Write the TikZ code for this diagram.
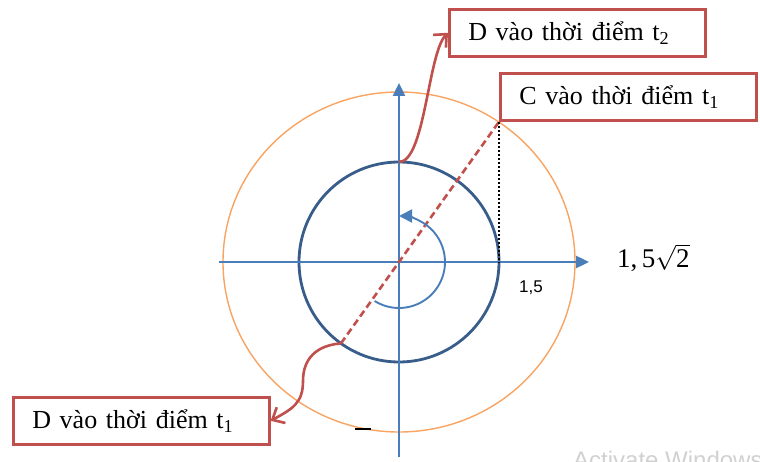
\documentclass[tikz,border=0pt]{standalone}
\usepackage{amsmath}
\usepackage{fontspec}
\setmainfont{Liberation Serif}
\newfontfamily\labelsans{Liberation Sans}
\usetikzlibrary{arrows.meta}
\definecolor{axisblue}{HTML}{4A7EBB}
\definecolor{ringblue}{HTML}{385D8A}
\definecolor{ringorange}{HTML}{F8A462}
\definecolor{boxred}{HTML}{C0504D}
\begin{document}
\begin{tikzpicture}[x=1pt,y=1pt,
  axis/.style={draw=axisblue, line width=2.4pt, -{Triangle[length=13pt,width=12pt]}},
  labelbox/.style={draw=boxred, line width=2.6pt, fill=white, minimum height=47pt,
    text width=218pt, inner xsep=19pt, inner ysep=0pt, align=left, anchor=north west,
    font=\fontsize{26}{30}\selectfont},
  pointer/.style={draw=boxred, line width=2.6pt, -{Straight Barb[length=10pt,width=18pt]}},
  turnarrow/.style={draw=axisblue, line width=1.9pt, -{Triangle[length=13pt,width=13pt]}}]
\clip (0,0) rectangle (760,461);
\fill[white] (0,0) rectangle (760,461);
\coordinate (O) at (399,199);
\coordinate (xl) at (219,199);
\coordinate (xr) at (589,199);
\coordinate (yb) at (399,4);
\coordinate (yt) at (399,378);
\coordinate (pC) at ([shift={(54.5:172)}]O);
\coordinate (pD1) at ([shift={(234.5:100)}]O);
\coordinate (pD2) at ([shift={(90:100)}]O);
\coordinate (bend) at (303,80);
% circles
\draw[ringorange, line width=1.4pt] (O) ellipse[x radius=176, y radius=170];
\draw[ringblue, line width=2.8pt] (O) circle[radius=100];
% axes
\draw[axis] (xl) -- (xr);
\draw[axis] (yb) -- (yt);
% diameter and projection
\draw[boxred, line width=2.6pt, dash pattern=on 7pt off 4pt] (pD1) -- (pC);
\draw[black, line width=2.4pt, dash pattern=on 2pt off 2pt] (pC) -- (pC |- O);
% turning arrow
\draw[turnarrow] ([shift={(-122:46)}]O) arc[start angle=-122, end angle=90, radius=46];
% boxes
\node[labelbox] (boxD2) at (448,453) {D vào thời điểm t\textsubscript{2}};
\node[labelbox] (boxC1) at (499,389) {C vào thời điểm t\textsubscript{1}};
\node[labelbox] (boxD1) at (12,65) {D vào thời điểm t\textsubscript{1}};
% pointers
\draw[pointer] (pD2) .. controls +(26,0) and +(-20,-20) .. (boxD2.west);
\draw[pointer] (pD1) .. controls +(-25,-2) and +(0,22) .. (bend)
  .. controls +(0,-22) and +(22,12) .. (boxD1.east);
% labels
\node[anchor=west, inner sep=0, font=\fontsize{27}{30}\selectfont] (lblR) at (617,203) {1,\,5$\sqrt{\mbox{2}}$};
\node[anchor=west, inner sep=0, font=\labelsans\fontsize{17}{20}\selectfont] (lblA) at (519,173) {1,5};
\draw[black, line width=2pt] (355,32) -- (371,32);
\node[anchor=base west, inner sep=0, text=black!18, font=\labelsans\fontsize{24}{28}\selectfont] (wm) at (573,-7) {Activate Windows};
\end{tikzpicture}
\end{document}
